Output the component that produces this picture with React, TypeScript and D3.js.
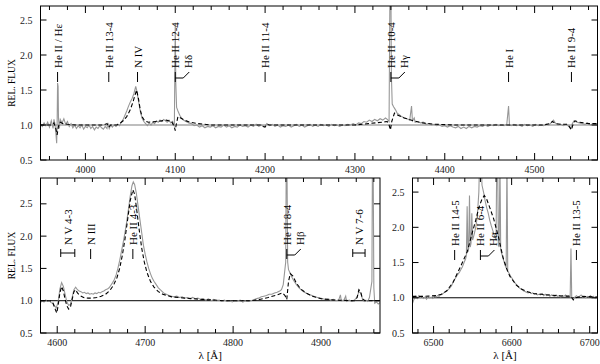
import React, { useEffect, useRef } from 'react';
import * as d3 from 'd3';

type Pt = [number, number];

// top panel, observed spectrum (wavelength in Å, relative flux)
const topObs: Pt[] = [
  [3950, 1.01], [3952, 0.98], [3954, 1.03], [3956, 0.99], [3958, 1.04], [3960, 0.97], [3962, 1.06], [3964, 0.95],
  [3965, 1.08], [3966, 1.02], [3967, 0.9], [3968, 0.74], [3968.5, 1.0], [3969, 1.6], [3969.6, 1.55], [3970, 1.1],
  [3971, 0.95], [3972, 1.08], [3974, 1.03], [3976, 1.09], [3978, 1.01], [3980, 1.05], [3982, 0.98], [3984, 1.02],
  [3986, 0.96], [3988, 1.0], [3990, 0.95], [3992, 0.99], [3994, 0.96], [3996, 1.0], [3998, 0.94], [4000, 0.98],
  [4002, 0.96], [4004, 1.0], [4006, 0.95], [4008, 0.98], [4010, 0.93], [4012, 0.97], [4014, 0.95], [4016, 0.99],
  [4018, 0.96], [4020, 0.94], [4022, 0.98], [4024, 0.95], [4025, 1.03], [4026.5, 0.95], [4028, 1.0], [4030, 0.97],
  [4032, 1.0], [4034, 0.98], [4036, 1.01], [4038, 0.99], [4040, 1.04], [4042, 1.08], [4044, 1.14], [4046, 1.2],
  [4048, 1.27], [4050, 1.33], [4052, 1.38], [4054, 1.45], [4056, 1.55], [4057, 1.5], [4059, 1.35], [4061, 1.2],
  [4063, 1.1], [4065, 1.05], [4067, 1.02], [4069, 0.99], [4071, 1.03], [4073, 1.0], [4075, 1.04], [4077, 1.02],
  [4079, 1.06], [4081, 1.04], [4083, 1.07], [4085, 1.05], [4087, 1.08], [4089, 1.06], [4091, 1.04], [4093, 1.07],
  [4095, 1.03], [4097, 1.05], [4099, 0.98], [4100, 2.46], [4100.6, 1.6], [4101.5, 1.25], [4103, 1.2], [4105, 1.14],
  [4107, 1.1], [4109, 1.07], [4112, 1.05], [4115, 1.03], [4118, 1.02], [4121, 0.99], [4124, 1.0], [4127, 0.97],
  [4130, 0.99], [4133, 0.96], [4136, 0.98], [4139, 0.97], [4142, 0.99], [4145, 0.96], [4148, 0.98], [4151, 0.97],
  [4154, 1.0], [4157, 0.97], [4160, 0.99], [4163, 0.96], [4166, 0.98], [4169, 0.97], [4172, 1.0], [4175, 0.98],
  [4178, 0.99], [4181, 0.97], [4184, 1.0], [4187, 0.98], [4190, 1.01], [4193, 0.98], [4196, 1.0], [4199, 0.97],
  [4202, 1.02], [4205, 0.99], [4208, 1.01], [4211, 0.98], [4214, 1.0], [4217, 0.97], [4220, 0.99], [4223, 0.98],
  [4226, 1.0], [4229, 0.97], [4232, 0.99], [4235, 1.01], [4238, 0.98], [4241, 1.0], [4244, 0.97], [4247, 0.99],
  [4250, 1.01], [4253, 0.98], [4256, 1.0], [4259, 0.98], [4262, 1.01], [4265, 0.99], [4268, 1.0], [4271, 0.98],
  [4274, 1.01], [4277, 0.99], [4280, 1.0], [4283, 0.98], [4286, 1.0], [4289, 0.99], [4292, 1.01], [4295, 1.0],
  [4298, 1.02], [4301, 1.0], [4304, 1.03], [4307, 1.02], [4310, 1.05], [4313, 1.04], [4316, 1.07], [4319, 1.05],
  [4322, 1.08], [4325, 1.06], [4328, 1.09], [4331, 1.07], [4334, 1.1], [4336, 1.08], [4338, 1.05], [4339, 3.0],
  [4340, 3.0], [4340.6, 1.7], [4341.5, 1.3], [4343, 1.26], [4345, 1.22], [4347, 1.17], [4349, 1.15], [4352, 1.12],
  [4355, 1.1], [4358, 1.09], [4361, 1.07], [4363, 1.27], [4364, 1.06], [4366, 1.1], [4367, 1.04], [4370, 1.05],
  [4373, 1.03], [4376, 1.04], [4379, 1.01], [4382, 1.02], [4385, 1.0], [4388, 1.01], [4391, 0.99], [4394, 1.0],
  [4397, 0.98], [4400, 0.99], [4403, 0.97], [4406, 0.99], [4409, 0.97], [4412, 0.96], [4415, 0.98], [4418, 0.95],
  [4421, 0.97], [4424, 0.95], [4427, 0.98], [4430, 0.96], [4433, 0.98], [4436, 0.97], [4439, 0.99], [4442, 0.98],
  [4445, 1.0], [4448, 0.98], [4451, 1.0], [4454, 0.99], [4457, 1.01], [4460, 0.99], [4463, 1.0], [4466, 0.99],
  [4469, 1.01], [4471, 1.27], [4472, 1.0], [4474, 0.99], [4477, 1.01], [4480, 0.99], [4483, 1.0], [4486, 0.98],
  [4489, 1.01], [4492, 0.99], [4495, 1.0], [4498, 0.98], [4501, 1.01], [4504, 0.99], [4507, 1.0], [4510, 0.99],
  [4513, 1.01], [4516, 1.0], [4519, 1.04], [4521, 1.07], [4523, 1.03], [4526, 1.0], [4529, 1.01], [4532, 0.99],
  [4535, 1.01], [4538, 0.98], [4540, 0.95], [4542, 1.02], [4544, 1.06], [4547, 1.04], [4550, 1.03], [4553, 1.02],
  [4556, 1.01], [4559, 1.03], [4562, 1.0], [4565, 1.02], [4568, 1.01], [4570, 1.02],
];

// top panel, model
const topModel: Pt[] = [
  [3950, 1.0], [3962, 1.0], [3965, 1.03], [3967, 0.95], [3968.5, 0.86], [3970, 0.98], [3972, 1.04], [3975, 1.02],
  [3980, 1.01], [3990, 1.0], [4020, 1.0], [4024, 1.02], [4026, 0.97], [4028, 1.0], [4035, 1.0], [4038, 1.02],
  [4042, 1.06], [4046, 1.12], [4050, 1.22], [4053, 1.33], [4055, 1.42], [4057, 1.5], [4059, 1.38], [4061, 1.22],
  [4063, 1.12], [4066, 1.06], [4070, 1.04], [4080, 1.05], [4090, 1.07], [4096, 1.05], [4099, 0.97], [4100, 0.92],
  [4101, 1.0], [4103, 1.12], [4106, 1.1], [4110, 1.07], [4116, 1.04], [4125, 1.02], [4140, 1.0], [4195, 1.0],
  [4198, 0.98], [4200, 0.97], [4202, 1.01], [4205, 1.0], [4300, 1.0], [4315, 1.02], [4330, 1.04], [4336, 1.05],
  [4338, 1.0], [4339.5, 0.93], [4341, 1.05], [4344, 1.17], [4348, 1.14], [4355, 1.1], [4365, 1.06], [4375, 1.03],
  [4390, 1.01], [4410, 1.0], [4510, 1.0], [4517, 1.02], [4520, 1.05], [4523, 1.02], [4530, 1.01], [4537, 1.01],
  [4539, 0.97], [4541, 0.93], [4543, 1.02], [4545, 1.06], [4550, 1.04], [4560, 1.02], [4570, 1.02],
];

// lower left panel, observed
const leftObs: Pt[] = [
  [4581, 0.97], [4583, 1.0], [4585, 0.98], [4587, 1.01], [4589, 0.99], [4591, 1.0], [4593, 0.97], [4595, 0.96],
  [4597, 0.92], [4599, 0.89], [4601, 0.98], [4603, 1.18], [4605, 1.28], [4607, 1.22], [4609, 1.1], [4611, 0.98],
  [4613, 0.93], [4615, 0.94], [4617, 1.05], [4619, 1.17], [4621, 1.21], [4623, 1.17], [4625, 1.15], [4627, 1.14],
  [4629, 1.12], [4631, 1.13], [4633, 1.11], [4635, 1.12], [4637, 1.1], [4639, 1.11], [4641, 1.1], [4643, 1.12],
  [4645, 1.11], [4647, 1.13], [4649, 1.12], [4651, 1.14], [4653, 1.15], [4655, 1.17], [4657, 1.18], [4659, 1.2],
  [4661, 1.24], [4663, 1.28], [4665, 1.33], [4667, 1.4], [4669, 1.5], [4671, 1.62], [4673, 1.76], [4675, 1.9],
  [4677, 2.05], [4679, 2.22], [4681, 2.42], [4683, 2.62], [4685, 2.78], [4686.5, 2.84], [4688, 2.8], [4690, 2.66],
  [4692, 2.46], [4694, 2.26], [4696, 2.06], [4698, 1.86], [4700, 1.72], [4702, 1.6], [4704, 1.5], [4706, 1.42],
  [4708, 1.35], [4710, 1.3], [4712, 1.26], [4715, 1.2], [4718, 1.16], [4721, 1.12], [4724, 1.1], [4727, 1.08],
  [4730, 1.07], [4733, 1.06], [4736, 1.07], [4739, 1.05], [4742, 1.06], [4745, 1.04], [4748, 1.05], [4751, 1.03],
  [4754, 1.05], [4757, 1.03], [4760, 1.04], [4763, 1.02], [4766, 1.03], [4769, 1.01], [4772, 1.03], [4775, 1.0],
  [4778, 1.02], [4781, 1.0], [4784, 1.01], [4787, 0.99], [4790, 1.01], [4793, 0.99], [4796, 1.0], [4799, 0.98],
  [4802, 1.0], [4805, 0.99], [4808, 1.01], [4811, 0.98], [4814, 1.0], [4817, 0.99], [4820, 1.0], [4823, 1.01],
  [4826, 1.03], [4829, 1.04], [4832, 1.06], [4835, 1.07], [4838, 1.08], [4841, 1.1], [4844, 1.1], [4847, 1.12],
  [4850, 1.13], [4853, 1.15], [4855, 1.17], [4857, 1.25], [4859.8, 1.6], [4860.4, 3.2], [4861.2, 3.2], [4862, 1.6],
  [4863, 1.48], [4865, 1.42], [4867, 1.36], [4869, 1.31], [4872, 1.25], [4875, 1.2], [4878, 1.16], [4881, 1.13],
  [4884, 1.11], [4887, 1.09], [4890, 1.08], [4893, 1.06], [4896, 1.05], [4899, 1.04], [4902, 1.03], [4905, 1.02],
  [4908, 1.03], [4911, 1.01], [4914, 1.02], [4917, 1.0], [4920, 1.01], [4922, 1.09], [4923, 1.0], [4926, 1.01],
  [4928, 1.07], [4929, 0.99], [4932, 1.01], [4935, 0.99], [4938, 1.01], [4941, 1.06], [4943, 1.14], [4945, 1.12],
  [4947, 1.03], [4949, 0.99], [4951, 1.01], [4953, 0.99], [4955, 1.05], [4957.8, 1.3], [4958.4, 3.2], [4959.2, 3.2],
  [4960, 1.2], [4961, 0.96], [4963, 0.98], [4965, 0.95], [4967, 0.97],
];

// lower left panel, model
const leftModel: Pt[] = [
  [4581, 1.0], [4592, 1.0], [4595, 0.97], [4598, 0.86], [4599.5, 0.81], [4601, 0.92], [4603, 1.12], [4605, 1.22],
  [4607, 1.15], [4609, 1.02], [4611, 0.92], [4613, 0.87], [4615, 0.9], [4617, 1.02], [4619, 1.14], [4621, 1.17],
  [4623, 1.12], [4626, 1.08], [4630, 1.05], [4635, 1.04], [4640, 1.04], [4645, 1.05], [4650, 1.07], [4655, 1.1],
  [4660, 1.16], [4664, 1.24], [4668, 1.36], [4671, 1.5], [4674, 1.7], [4677, 1.95], [4680, 2.25], [4683, 2.55],
  [4686, 2.72], [4688, 2.65], [4690, 2.45], [4693, 2.12], [4696, 1.82], [4699, 1.6], [4702, 1.44], [4706, 1.3],
  [4710, 1.21], [4715, 1.14], [4720, 1.1], [4730, 1.06], [4745, 1.04], [4765, 1.02], [4790, 1.0], [4820, 1.0],
  [4830, 1.02], [4840, 1.05], [4850, 1.09], [4856, 1.12], [4859, 1.08], [4861, 1.02], [4863, 1.3], [4865, 1.42],
  [4868, 1.38], [4872, 1.27], [4877, 1.18], [4883, 1.12], [4890, 1.07], [4900, 1.03], [4915, 1.01], [4938, 1.0],
  [4941, 1.05], [4943, 1.17], [4945, 1.14], [4947, 1.03], [4950, 1.0], [4967, 1.0],
];

// lower right panel, observed
const rightObs: Pt[] = [
  [6473, 0.92], [6475, 0.98], [6477, 1.02], [6479, 0.99], [6481, 1.03], [6483, 1.0], [6485, 1.02], [6487, 0.99],
  [6489, 1.01], [6491, 0.98], [6493, 1.02], [6495, 1.0], [6497, 1.01], [6499, 0.99], [6501, 1.02], [6503, 1.01],
  [6505, 1.03], [6507, 1.02], [6509, 1.04], [6511, 1.05], [6513, 1.07], [6515, 1.08], [6517, 1.1], [6519, 1.12],
  [6521, 1.14], [6523, 1.17], [6525, 1.22], [6527, 1.26], [6529, 1.3], [6531, 1.33], [6533, 1.36], [6535, 1.4],
  [6537, 1.44], [6539, 1.5], [6541, 1.55], [6542, 1.6], [6543, 2.3], [6544, 1.65], [6545, 1.7], [6546, 2.45],
  [6547, 1.72], [6548, 1.78], [6549, 2.2], [6550, 1.82], [6552, 1.9], [6554, 2.0], [6556, 2.15], [6558, 2.5],
  [6559, 3.0], [6561, 3.0], [6562, 2.6], [6564, 2.5], [6566, 2.38], [6568, 2.28], [6570, 2.2], [6572, 2.1],
  [6574, 2.02], [6576, 1.95], [6578, 1.88], [6580, 1.82], [6581, 3.0], [6582, 3.0], [6583, 1.75], [6584, 1.72],
  [6585, 3.0], [6586, 1.68], [6588, 1.6], [6590, 1.52], [6592, 1.45], [6593, 1.42], [6594, 3.0], [6595, 1.38],
  [6597, 1.34], [6599, 1.3], [6601, 1.27], [6603, 1.23], [6605, 1.2], [6607, 1.18], [6609, 1.15], [6611, 1.13],
  [6613, 1.12], [6615, 1.1], [6617, 1.09], [6619, 1.08], [6621, 1.07], [6623, 1.08], [6625, 1.06], [6627, 1.07],
  [6629, 1.05], [6631, 1.06], [6633, 1.04], [6635, 1.05], [6637, 1.04], [6639, 1.06], [6641, 1.03], [6643, 1.05],
  [6645, 1.03], [6647, 1.04], [6649, 1.02], [6651, 1.04], [6653, 1.03], [6655, 1.02], [6657, 1.04], [6659, 1.02],
  [6661, 1.03], [6663, 1.01], [6665, 1.03], [6667, 1.02], [6669, 1.04], [6671, 1.02], [6673, 1.03], [6675, 1.01],
  [6676, 1.7], [6677, 1.0], [6679, 0.98], [6681, 1.01], [6683, 1.03], [6685, 1.01], [6687, 1.02], [6689, 1.04],
  [6691, 1.01], [6693, 1.02], [6695, 1.0], [6697, 1.02], [6699, 1.01], [6701, 1.03], [6703, 1.0], [6705, 1.02],
  [6707, 0.99], [6709, 1.01], [6710, 1.0],
];

// lower right panel, model
const rightModel: Pt[] = [
  [6473, 1.02], [6488, 1.02], [6503, 1.03], [6510, 1.05], [6517, 1.1], [6525, 1.22], [6534, 1.43], [6543, 1.65],
  [6549, 1.9], [6554, 2.1], [6558, 2.28], [6562, 2.4], [6565, 2.45], [6568, 2.4], [6572, 2.28], [6577, 2.12],
  [6583, 1.87], [6589, 1.57], [6594, 1.4], [6598, 1.3], [6606, 1.18], [6613, 1.12], [6619, 1.09], [6628, 1.06],
  [6638, 1.05], [6658, 1.03], [6676, 1.02], [6679, 0.97], [6682, 1.0], [6690, 1.02], [6710, 1.01],
];

const topTicks = [4000, 4100, 4200, 4300, 4400, 4500];
const leftTicks = [4600, 4700, 4800, 4900];
const rightTicks = [6500, 6600, 6700];
const fluxTicks = [0.5, 1.0, 1.5, 2.0, 2.5];

// line identifications: [label, wavelength, second label]
const topLines: [string, number, string?][] = [
  ['He II / Hε', 3969],
  ['He II 13-4', 4026],
  ['N IV', 4058],
  ['He II 12-4', 4100, 'Hδ'],
  ['He II 11-4', 4200],
  ['He II 10-4', 4340, 'Hγ'],
  ['He I', 4471],
  ['He II 9-4', 4541],
];
const leftLines: [string, number, string?][] = [
  ['N III', 4638],
  ['He II 4-3', 4686],
  ['He II 8-4', 4861, 'Hβ'],
];
// doublets marked with a bracket: [label, from, to]
const leftBrackets: [string, number, number][] = [
  ['N V 4-3', 4604, 4620],
  ['N V 7-6', 4936, 4950],
];
const rightLines: [string, number, string?][] = [
  ['He II 14-5', 6527],
  ['He II 6-4', 6560, 'Hα'],
  ['He II 13-5', 6683],
];

const FONT = '"Liberation Serif", "Times New Roman", serif';

const App = () => {
  const svgRef = useRef<SVGSVGElement>(null);

  useEffect(() => {
    const svg = d3.select(svgRef.current);
    svg.selectAll('*').remove();

    const drawPanel = (p: any) => {
      const x = d3.scaleLinear().domain(p.xDomain).range([p.left, p.right]);
      const y = d3.scaleLinear().domain(p.yDomain).range([p.bottom, p.top]);

      svg.append('clipPath').attr('id', p.id)
        .append('rect')
        .attr('x', p.left).attr('y', p.top)
        .attr('width', p.right - p.left).attr('height', p.bottom - p.top);

      const plot = svg.append('g').attr('clip-path', `url(#${p.id})`);

      plot.append('line')
        .attr('x1', p.left).attr('x2', p.right)
        .attr('y1', y(1)).attr('y2', y(1))
        .attr('stroke', p.contColor)
        .attr('stroke-width', p.contWidth);

      const line = d3.line<Pt>().x(d => x(d[0])).y(d => y(d[1]));

      plot.append('path')
        .datum(p.obs)
        .attr('d', line)
        .attr('fill', 'none')
        .attr('stroke', '#979797')
        .attr('stroke-width', 1.1);

      plot.append('path')
        .datum(p.model)
        .attr('d', line)
        .attr('fill', 'none')
        .attr('stroke', '#000')
        .attr('stroke-width', 1.1)
        .attr('stroke-dasharray', '4,2.5');

      // frame
      svg.append('rect')
        .attr('x', p.left).attr('y', p.top)
        .attr('width', p.right - p.left).attr('height', p.bottom - p.top)
        .attr('fill', 'none')
        .attr('stroke', '#000')
        .attr('stroke-width', 1);

      const ticks = svg.append('g').attr('stroke', '#000').attr('stroke-width', 1);
      const x0 = Math.ceil(p.xDomain[0] / 20) * 20;
      d3.range(x0, p.xDomain[1], 20).forEach(v => {
        const len = v % 100 === 0 ? 7 : 4;
        const xv = x(v);
        ticks.append('line').attr('x1', xv).attr('x2', xv).attr('y1', p.bottom).attr('y2', p.bottom - len);
        ticks.append('line').attr('x1', xv).attr('x2', xv).attr('y1', p.top).attr('y2', p.top + len);
      });
      fluxTicks.forEach(v => {
        const yv = y(v);
        ticks.append('line').attr('x1', p.left).attr('x2', p.left + 6).attr('y1', yv).attr('y2', yv);
        ticks.append('line').attr('x1', p.right).attr('x2', p.right - 6).attr('y1', yv).attr('y2', yv);
      });

      svg.append('g').selectAll('text')
        .data(p.xTicks)
        .join('text')
        .attr('x', (d: number) => x(d))
        .attr('y', p.bottom + 13)
        .attr('text-anchor', 'middle')
        .attr('font-family', FONT)
        .attr('font-size', 10)
        .attr('fill', '#222')
        .text((d: number) => d);

      svg.append('g').selectAll('text')
        .data(fluxTicks)
        .join('text')
        .attr('x', p.left - 8)
        .attr('y', (d: number) => y(d))
        .attr('dy', '0.35em')
        .attr('text-anchor', 'end')
        .attr('font-family', FONT)
        .attr('font-size', 10)
        .attr('fill', '#222')
        .text((d: number) => d.toFixed(1));

      if (p.yLabel) {
        svg.append('text')
          .attr('transform', `translate(12,${(p.top + p.bottom) / 2}) rotate(-90)`)
          .attr('text-anchor', 'middle')
          .attr('dominant-baseline', 'central')
          .attr('font-family', FONT)
          .attr('font-size', 9.5)
          .text('REL. FLUX');
      }
      if (p.xLabel) {
        svg.append('text')
          .attr('x', (p.left + p.right) / 2)
          .attr('y', p.bottom + 26)
          .attr('text-anchor', 'middle')
          .attr('font-family', FONT)
          .attr('font-size', 11)
          .text('λ [Å]');
      }

      // line identifications
      const ids = svg.append('g');
      const vText = (tx: number, ty: number, s: string) => {
        ids.append('text')
          .attr('transform', `translate(${tx},${ty}) rotate(-90)`)
          .attr('dominant-baseline', 'central')
          .attr('font-family', FONT)
          .attr('font-size', 11)
          .text(s);
      };
      const seg = (x1: number, y1: number, x2: number, y2: number) => {
        ids.append('line')
          .attr('x1', x1).attr('y1', y1).attr('x2', x2).attr('y2', y2)
          .attr('stroke', '#000').attr('stroke-width', 1);
      };
      const ty = p.labelEnd;
      p.lines.forEach(([s, wl, s2]: [string, number, string?]) => {
        const lx = x(wl);
        vText(lx, ty, s);
        seg(lx, ty + 4, lx, ty + 14);
        if (s2) {
          const sx = lx + 13;
          vText(sx, ty, s2);
          seg(lx, ty + 10, sx - 5, ty + 10);
          seg(sx - 5, ty + 10, sx + 1, ty + 4);
        }
      });
      (p.brackets || []).forEach(([s, a, b]: [string, number, number]) => {
        const xa = x(a), xb = x(b), xm = (xa + xb) / 2;
        vText(xm, ty, s);
        seg(xa, ty + 8, xb, ty + 8);
        seg(xa, ty + 4, xa, ty + 12);
        seg(xb, ty + 4, xb, ty + 12);
      });
    };

    drawPanel({
      id: 'clip-top', left: 40.5, right: 597.5, top: 6, bottom: 160,
      xDomain: [3950, 4570], yDomain: [0.5, 2.7],
      obs: topObs, model: topModel, xTicks: topTicks,
      contColor: '#a8a8a8', contWidth: 1.6,
      yLabel: true, xLabel: false, labelEnd: 68, lines: topLines,
    });
    drawPanel({
      id: 'clip-left', left: 40.5, right: 380, top: 178, bottom: 333,
      xDomain: [4581, 4967], yDomain: [0.5, 2.9],
      obs: leftObs, model: leftModel, xTicks: leftTicks,
      contColor: '#000', contWidth: 1,
      yLabel: true, xLabel: true, labelEnd: 245, lines: leftLines, brackets: leftBrackets,
    });
    drawPanel({
      id: 'clip-right', left: 412.5, right: 597.5, top: 178, bottom: 333,
      xDomain: [6473, 6710], yDomain: [0.5, 2.7],
      obs: rightObs, model: rightModel, xTicks: rightTicks,
      contColor: '#000', contWidth: 1,
      yLabel: false, xLabel: true, labelEnd: 246, lines: rightLines,
    });
  }, []);

  return (
    <svg
      ref={svgRef}
      width={600}
      height={364}
      style={{ position: 'absolute', left: 0, top: 0, background: '#fff' }}
    />
  );
};

export default App;
